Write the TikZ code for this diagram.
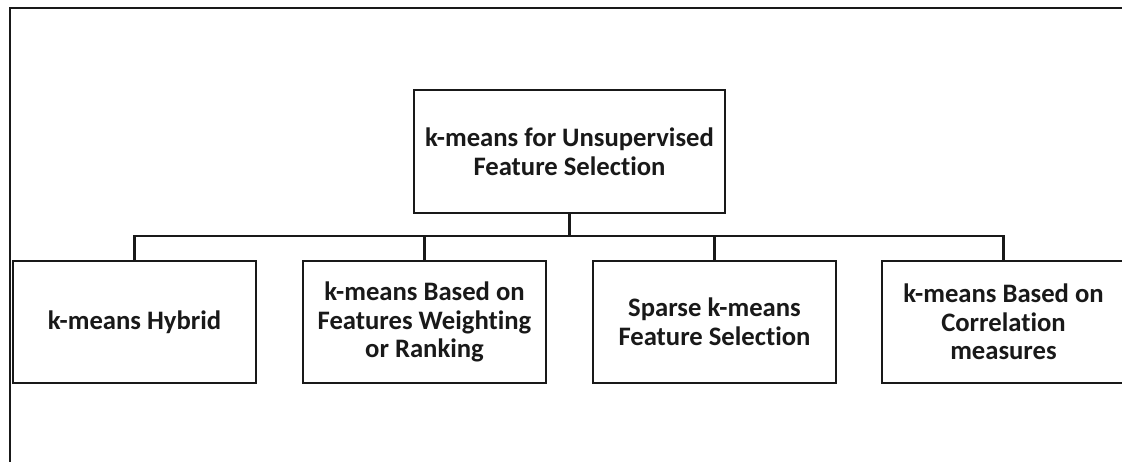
\documentclass[tikz,border=0pt]{standalone}
\usepackage{fontspec}
\setmainfont{Carlito}[Ligatures={NoCommon}]
\begin{document}
\begin{tikzpicture}[x=0.75pt,y=-0.75pt,
  catbox/.style={draw=black!90, line width=1.6pt, rectangle, inner sep=0pt,
    minimum width=182.25pt, minimum height=91.5pt, align=center,
    font=\fontsize{20}{21.5}\selectfont\bfseries, text=black!90},
  link/.style={draw=black!90, line width=1.6pt}]
\useasboundingbox (0,0) rectangle (1122,461);
\clip (0,0) rectangle (1122,461);
\fill[white] (0,0) rectangle (1122,461);
\draw[line width=1.8pt, black!90] (10,470) -- (10,8) -- (1130,8);
\node[catbox, minimum width=233.25pt, minimum height=92.25pt] (top) at (569.5,151.5)
  {k-means for Unsupervised\\Feature Selection};
\node[catbox] (b1) at (134.5,322) {k-means Hybrid};
\node[catbox] (b2) at (424.5,322) {k-means Based on\\Features Weighting\\or Ranking};
\node[catbox] (b3) at (714.5,322) {Sparse k-means\\Feature Selection};
\node[catbox] (b4) at (1003.5,322) {k-means Based on\\Correlation\\measures};
\coordinate (bus) at (569.5,236);
\draw[link, line width=2.4pt] (top.south) -- (bus);
\draw[link] (b1.north) -- (b1.north |- bus) -- (b4.north |- bus) -- (b4.north);
\draw[link] (b2.north) -- (b2.north |- bus);
\draw[link] (b3.north) -- (b3.north |- bus);
\end{tikzpicture}
\end{document}
